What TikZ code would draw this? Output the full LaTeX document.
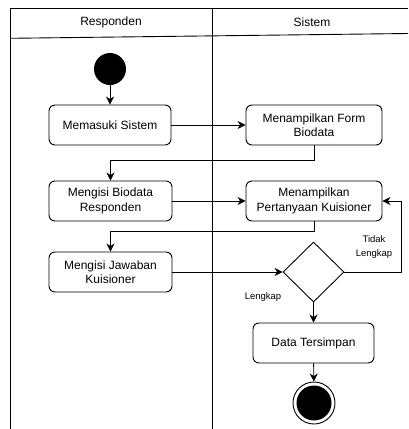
\documentclass[tikz,border=0pt]{standalone}
\usepackage{fontspec}
\setmainfont{Liberation Sans}
\usetikzlibrary{shapes.geometric,arrows.meta}
\begin{document}
\begin{tikzpicture}[x=1pt,y=-1pt,
  line width=0.9pt,
  act/.style={draw,rounded corners=6pt,align=center,font=\fontsize{12}{14.5}\selectfont,inner sep=0pt},
  arr/.style={-{Stealth[length=8pt,width=8pt,inset=2.5pt]}},
  lbl/.style={font=\fontsize{9.5}{14}\selectfont,align=center,inner sep=0pt},
  hdr/.style={font=\fontsize{12}{14}\selectfont,inner sep=0pt}]
\useasboundingbox (0,0) rectangle (408,429);
% swimlane frame
\draw (10,429) -- (10,8) -- (408,8);
\draw (212,8) -- (212,429);
\draw (10,38.3) -- (408,33.5);
\node[hdr] (h1) at (111,22) {Responden};
\node[hdr] (h2) at (312,22) {Sistem};
% nodes
\node[circle,fill=black,minimum size=32pt,inner sep=0pt] (start) at (110,69) {};
\node[act,minimum width=122pt,minimum height=40pt] (a1) at (110,125) {Memasuki Sistem};
\node[act,minimum width=136pt,minimum height=40pt] (b1) at (314,125) {Menampilkan Form\\Biodata};
\node[act,minimum width=123pt,minimum height=40pt] (a2) at (110.5,201) {Mengisi Biodata\\Responden};
\node[act,minimum width=136pt,minimum height=40pt] (b2) at (314,201) {Menampilkan\\Pertanyaan Kuisioner};
\node[act,minimum width=123pt,minimum height=40pt] (a3) at (110.5,272) {Mengisi Jawaban\\Kuisioner};
\node[diamond,draw,minimum width=61pt,minimum height=60pt,inner sep=0pt] (d) at (313.5,272) {};
\node[act,minimum width=121pt,minimum height=40pt] (b3) at (313.5,343) {Data Tersimpan};
\node[circle,draw,minimum size=42pt,inner sep=0pt,
  path picture={\fill (path picture bounding box.center) circle (17.5pt);}] (end) at (314,403) {};
% labels
\node[lbl] (l1) at (374,247) {Tidak\\Lengkap};
\node[lbl] (l2) at (263,297) {Lengkap};
% connectors
\draw[arr] (start) -- (a1);
\draw[arr] (a1) -- (b1);
\draw[arr] (b1.south) -- ++(0,15) -| (a2.north);
\draw[arr] (a2) -- (b2);
\draw[arr] (b2.south) -- ++(0,10) -| (a3.north);
\draw[arr] (a3.east) -- (d.west);
\draw[arr] (d.east) -- ++(57,0) |- (b2.east);
\draw[arr] (d.south) -- (b3.north);
\draw[arr] (b3) -- (end);
\end{tikzpicture}
\end{document}
